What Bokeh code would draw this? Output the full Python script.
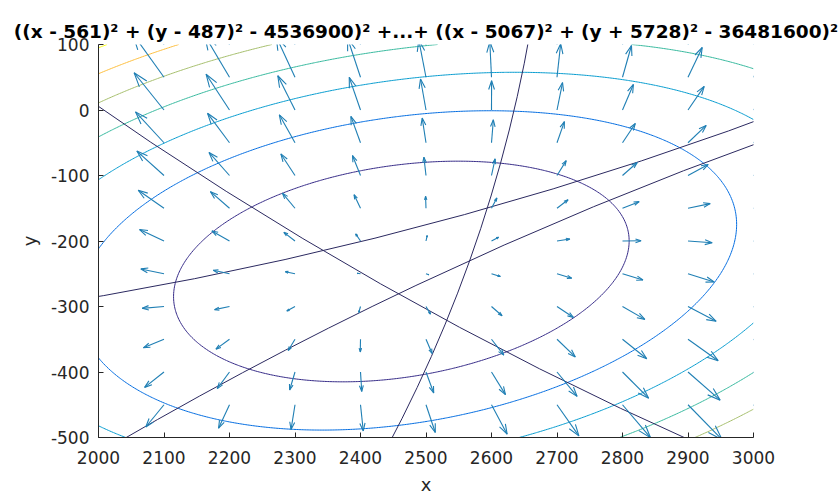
import numpy as np
from bokeh.plotting import figure
from bokeh.models import Range1d, FixedTicker
from bokeh.embed import file_html
from bokeh.resources import INLINE

# Terms of the plotted function: sum of ((x - cx)^2 + (y - cy)^2 - r^2)^2
CIRCLE_CX = [561, 5191, 1025, 5067]
CIRCLE_CY = [487, 4607, 5382, -5728]
CIRCLE_R = [2130, 5600, 5750, 6040]

# contour levels and their (parula) colours
CONTOUR_LEVELS = [1e13, 2e13, 3e13, 4e13, 5e13, 6e13, 7e13]
CONTOUR_COLORS = ["#352A87", "#046DE0", "#079CCF", "#37B99E", "#A5BE6B", "#FDBE3D", "#F9FB0E"]

# quiver grid
QUIVER_X = [2000, 2100, 2200, 2300, 2400, 2500, 2600, 2700, 2800, 2900, 3000]
QUIVER_Y = [-500, -450, -400, -350, -300, -250, -200, -150, -100, -50, 0, 50, 100]

X_TICKS = [2000, 2100, 2200, 2300, 2400, 2500, 2600, 2700, 2800, 2900, 3000]
X_TICK_LABELS = ["2000", "2100", "2200", "2300", "2400", "2500", "2600", "2700", "2800", "2900", "3000"]
Y_TICKS = [-500, -400, -300, -200, -100, 0, 100]
Y_TICK_LABELS = ["-500", "-400", "-300", "-200", "-100", "0", "100"]

TITLE = "((x - 561)\u00b2 + (y - 487)\u00b2 - 4536900)\u00b2 +...+ ((x - 5067)\u00b2 + (y + 5728)\u00b2 - 36481600)\u00b2"

TEXT_COLOR = "#262626"
CIRCLE_COLOR = "#2b2960"
ARROW_COLOR = "#1f7fb4"


def field(X, Y):
    Z = np.zeros_like(X, dtype=float)
    for cx, cy, r in zip(CIRCLE_CX, CIRCLE_CY, CIRCLE_R):
        Z += ((X - cx) ** 2 + (Y - cy) ** 2 - float(r) ** 2) ** 2
    return Z


p = figure(width=840, height=499,
           x_range=Range1d(2000, 3000), y_range=Range1d(-500, 100),
           output_backend="svg", toolbar_location=None,
           min_border_left=98, min_border_right=87,
           min_border_top=44, min_border_bottom=62,
           background_fill_color="white", border_fill_color="white")
p.outline_line_color = None
p.grid.visible = False

# contour lines
gx = np.linspace(2000, 3000, 401)
gy = np.linspace(-500, 100, 241)
GX, GY = np.meshgrid(gx, gy)
GZ = field(GX, GY)
p.contour(GX, GY, GZ, CONTOUR_LEVELS, line_color=CONTOUR_COLORS, line_width=1)

# zero sets of each term (circles)
p.circle(x=CIRCLE_CX, y=CIRCLE_CY, radius=CIRCLE_R, fill_color=None,
         line_color=CIRCLE_COLOR, line_width=1)

# quiver of the gradient (MATLAB-like autoscale)
QX, QY = np.meshgrid(np.array(QUIVER_X, float), np.array(QUIVER_Y, float))
QZ = field(QX, QY)
V, U = np.gradient(QZ)
m, n = QX.shape
delx = (QX.max() - QX.min()) / n
dely = (QY.max() - QY.min()) / m
del2 = delx ** 2 + dely ** 2
lens = np.sqrt((U ** 2 + V ** 2) / del2)
s = 0.9 / lens.max()
U = U * s
V = V * s
x0 = QX.ravel(); y0 = QY.ravel()
u = U.ravel(); v = V.ravel()
x1 = x0 + u; y1 = y0 + v
p.segment(x0=x0, y0=y0, x1=x1, y1=y1, line_color=ARROW_COLOR, line_width=1.1)
alpha, beta = 0.3, 0.33
hx = [[a - alpha * (du + beta * dv), a, a - alpha * (du - beta * dv)] for a, du, dv in zip(x1, u, v)]
hy = [[b - alpha * (dv - beta * du), b, b - alpha * (dv + beta * du)] for b, du, dv in zip(y1, u, v)]
p.multi_line(xs=hx, ys=hy, line_color=ARROW_COLOR, line_width=1.1)

# axes
p.xaxis.ticker = FixedTicker(ticks=X_TICKS)
p.xaxis.major_label_overrides = {float(t): l for t, l in zip(X_TICKS, X_TICK_LABELS)}
p.yaxis.ticker = FixedTicker(ticks=Y_TICKS)
p.yaxis.major_label_overrides = {float(t): l for t, l in zip(Y_TICKS, Y_TICK_LABELS)}
p.xaxis.axis_label = "x"
p.yaxis.axis_label = "y"
for ax in (p.xaxis[0], p.yaxis[0]):
    ax.major_tick_in = 5
    ax.major_tick_out = 0
    ax.minor_tick_line_color = None
    ax.axis_line_color = TEXT_COLOR
    ax.major_tick_line_color = TEXT_COLOR
    ax.major_label_text_font = "DejaVu Sans"
    ax.major_label_text_font_size = "17px"
    ax.major_label_text_color = TEXT_COLOR
    ax.axis_label_text_font = "DejaVu Sans"
    ax.axis_label_text_font_size = "18px"
    ax.axis_label_text_font_style = "normal"
    ax.axis_label_text_color = TEXT_COLOR
p.xaxis.major_label_standoff = 13
p.yaxis.major_label_standoff = 9
p.xaxis.axis_label_standoff = 7
p.yaxis.axis_label_standoff = 8

p.title.text = TITLE
p.title.align = "center"
p.title.text_font = "DejaVu Sans"
p.title.text_font_style = "bold"
p.title.text_font_size = "18.5px"
p.title.text_color = "black"
p.title.standoff = 6

open("out.html", "w").write(file_html(p, INLINE))
